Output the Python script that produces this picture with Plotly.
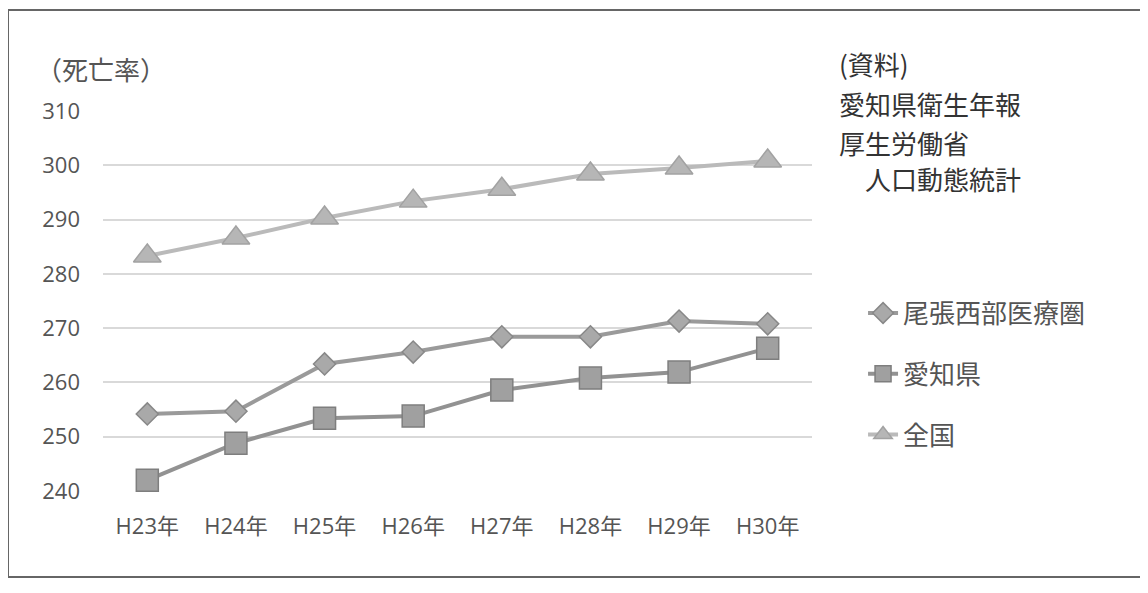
import plotly.graph_objects as go

categories = ["H23年", "H24年", "H25年", "H26年", "H27年", "H28年", "H29年", "H30年"]
owari_seibu = [254.2, 254.7, 263.4, 265.6, 268.4, 268.4, 271.3, 270.8]
aichi = [242.0, 248.8, 253.4, 253.8, 258.6, 260.8, 261.9, 266.3]
zenkoku = [283.3, 286.6, 290.3, 293.4, 295.6, 298.4, 299.5, 300.8]
series_names = ["尾張西部医療圏", "愛知県", "全国"]
y_ticks = [240, 250, 260, 270, 280, 290, 300, 310]
source_lines = ["(資料)", "愛知県衛生年報", "厚生労働省", "\u3000人口動態統計"]

FONT = "Noto Sans CJK JP"
TICKFONT = "Open Sans, Noto Sans CJK JP"

fig = go.Figure()
fig.add_trace(go.Scatter(
    x=categories, y=owari_seibu, name=series_names[0], mode="lines+markers",
    line=dict(color="#9a9a9a", width=4),
    marker=dict(symbol="diamond", size=17, color="#a9a9a9", line=dict(color="#888888", width=1.5)),
    legendgroup="a", cliponaxis=False))
fig.add_trace(go.Scatter(
    x=categories, y=aichi, name=series_names[1], mode="lines+markers",
    line=dict(color="#929292", width=4),
    marker=dict(symbol="square", size=22, color="#a0a0a0", line=dict(color="#7e7e7e", width=1.5)),
    legendgroup="b", cliponaxis=False))
fig.add_trace(go.Scatter(
    x=categories, y=zenkoku, name=series_names[2], mode="lines+markers",
    line=dict(color="#bababa", width=4),
    marker=dict(symbol="triangle-up", size=24, color="#b6b6b6", line=dict(color="#a2a2a2", width=1.5)),
    legendgroup="c", cliponaxis=False))

annotations = [dict(text="（死亡率）", xref="paper", yref="paper", x=-0.098, y=1.113,
                    xanchor="left", yanchor="middle", showarrow=False,
                    font=dict(family=FONT, size=26, color="#555555"))]
line_y = [1.124, 1.021, 0.918, 0.823]
for txt, yy in zip(source_lines, line_y):
    annotations.append(dict(text=txt, xref="paper", yref="paper", x=1.035, y=yy,
                            xanchor="left", yanchor="middle", showarrow=False,
                            font=dict(family=FONT, size=26, color="#333333")))

fig.update_layout(
    width=1140, height=585,
    margin=dict(l=95, r=336, t=103, b=102),
    paper_bgcolor="white", plot_bgcolor="white",
    font=dict(family=FONT, color="#555555"),
    xaxis=dict(type="category", range=[-0.5, 7.5], showgrid=False, showline=False,
               ticks="", ticklabelstandoff=20,
               tickfont=dict(family=TICKFONT, size=22, color="#555555")),
    yaxis=dict(range=[240, 310], tickvals=y_ticks, showgrid=True, gridcolor="#d9d9d9",
               gridwidth=1.5, zeroline=False, showline=False, ticks="",
               ticklabelstandoff=22,
               tickfont=dict(family=TICKFONT, size=22, color="#555555")),
    legend=dict(x=1.072, y=0.53, xanchor="left", yanchor="top",
                traceorder="grouped", tracegroupgap=24,
                font=dict(family=FONT, size=26, color="#555555"),
                bgcolor="rgba(0,0,0,0)"),
    annotations=annotations,
    shapes=[dict(type="rect", xref="paper", yref="paper",
                 x0=-0.134, x1=1.49, y0=-0.226, y1=1.266,
                 line=dict(color="#666666", width=2), fillcolor="rgba(0,0,0,0)")],
)

fig.write_html("out.html")
